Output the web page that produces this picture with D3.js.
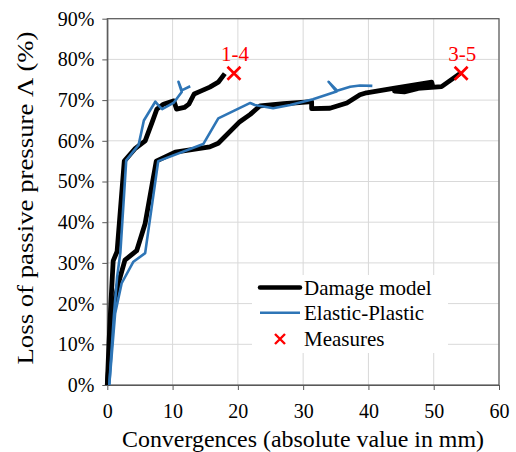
<!DOCTYPE html>
<html>
<head>
<meta charset="utf-8">
<script src="https://cdn.jsdelivr.net/npm/d3@7"></script>
<style>
  body { margin: 0; background: #fff; }
  svg text { font-family: "Liberation Serif", "Times New Roman", serif; }
</style>
</head>
<body>
<svg id="chart" width="516" height="452"></svg>
<script>
// 数据 (x: mm, y: %)
var damage14 = [[0,0],[0.25,10],[0.55,20],[0.9,30.5],[1.5,32.8],[2.6,55],[4.2,58],[5.8,60],[6.9,64.7],[7.6,67.8],[8.6,69],[10.2,69.8],[10.6,67.8],[11.8,68.2],[12.5,69],[13.3,71.5],[14.3,72.2],[15.7,73.2],[17,74.4],[18,76.5]];
var elastic14 = [[0.3,0],[1.0,16.8],[1.5,26.5],[2.0,32.5],[2.9,55.2],[4.8,59],[5.6,65],[7.35,69.6],[7.9,68.6],[8.4,67.8],[10.2,69.4],[11.4,72.0],[10.9,74.5],[11.4,72.4],[12.7,73.4]];
var damage35 = [[0,0],[0.5,10],[0.9,19],[1.7,25],[2.7,30.7],[4.5,33],[5.8,39.7],[7.5,55],[10.4,57.2],[15.7,58.5],[17,59.4],[20.3,64.7],[21.9,66.5],[23.4,68.6],[27,69.1],[31.3,69.6],[31.3,67.9],[34.1,68],[36.7,69.3],[38.7,71.3],[39.7,71.8],[43.8,72.9],[49.7,74.4],[49.8,73.7],[45.5,72.0],[44,72.2],[47,72.8],[51.2,73.3],[54,76.5]];
var elastic35 = [[0.3,0],[1.2,17.6],[2.2,25],[4,30.3],[5.8,32.4],[7.8,55],[14.7,59.2],[17,65.5],[21.9,69.3],[22.6,68.8],[25.4,68],[28,68.8],[31.5,70.2],[33.6,71.3],[35.1,72.1],[33.9,74.5],[35.2,72.3],[37.2,73.3],[38.7,73.6],[40.6,73.5]];
var measures = [[19.4,76.6,"1-4"],[54.2,76.6,"3-5"]];
var xTicks = [0,10,20,30,40,50,60];
var yTicks = [0,10,20,30,40,50,60,70,80,90];
var legendItems = ["Damage model","Elastic-Plastic","Measures"];

var _config = {
    left: 107.3, right: 499, top: 18.7, bottom: 385,
    black: "#000000", blue: "#2e75b6", red: "#ff0000", grid: "#d9d9d9", axis: "#595959"
};

var svg = d3.select("#chart");
var x = d3.scaleLinear().domain([0, 60]).range([_config.left, _config.right]);
var y = d3.scaleLinear().domain([0, 90]).range([_config.bottom, _config.top]);

// 网格
var grid = svg.append("g").attr("class", "grid");
grid.selectAll("line.h").data(yTicks.slice(1)).enter().append("line")
    .attr("x1", _config.left).attr("x2", _config.right)
    .attr("y1", function (d) { return y(d); }).attr("y2", function (d) { return y(d); })
    .attr("stroke", _config.grid).attr("stroke-width", 1);
grid.selectAll("line.v").data(xTicks.slice(1)).enter().append("line")
    .attr("y1", _config.top).attr("y2", _config.bottom)
    .attr("x1", function (d) { return x(d); }).attr("x2", function (d) { return x(d); })
    .attr("stroke", _config.grid).attr("stroke-width", 1);

// 边框
svg.append("rect")
    .attr("x", _config.left).attr("y", _config.top)
    .attr("width", _config.right - _config.left).attr("height", _config.bottom - _config.top)
    .attr("fill", "none").attr("stroke", _config.axis).attr("stroke-width", 1.2);

// 坐标轴
var gx = svg.append("g").attr("transform", "translate(0," + _config.bottom + ")")
    .call(d3.axisBottom(x).tickValues(xTicks).tickSize(5).tickPadding(14).tickSizeOuter(0));
var gy = svg.append("g").attr("transform", "translate(" + _config.left + ",0)")
    .call(d3.axisLeft(y).tickValues(yTicks).tickSize(5).tickPadding(8).tickSizeOuter(0)
        .tickFormat(function (d) { return d + "%"; }));
[gx, gy].forEach(function (g) {
    g.attr("font-family", null);
    g.select(".domain").attr("stroke", _config.axis).attr("stroke-width", 1.2);
    g.selectAll(".tick line").attr("stroke", _config.axis);
    g.selectAll(".tick text").attr("fill", "#000").style("font-size", "20px");
});

// 曲线
var line = d3.line().x(function (d) { return x(d[0]); }).y(function (d) { return y(d[1]); });
var curves = svg.append("g").attr("class", "curves");
[damage14, damage35].forEach(function (s) {
    curves.append("path").attr("d", line(s)).attr("fill", "none")
        .attr("stroke", _config.black).attr("stroke-width", 4.8).attr("stroke-linejoin", "round");
});
[elastic14, elastic35].forEach(function (s) {
    curves.append("path").attr("d", line(s)).attr("fill", "none")
        .attr("stroke", _config.blue).attr("stroke-width", 2.6).attr("stroke-linejoin", "round");
});

// 实测点
var cross = function (r) {
    return "M" + (-r) + "," + (-r) + "L" + r + "," + r + "M" + (-r) + "," + r + "L" + r + "," + (-r);
};
var meas = svg.append("g").selectAll("g").data(measures).enter().append("g")
    .attr("transform", function (d) { return "translate(" + x(d[0]) + "," + y(d[1]) + ")"; });
meas.append("path").attr("d", cross(6.5)).attr("stroke", _config.red).attr("stroke-width", 2.6).attr("fill", "none");
meas.append("text").attr("x", 1).attr("y", -12).attr("text-anchor", "middle")
    .attr("fill", _config.red).style("font-size", "21px").text(function (d) { return d[2]; });

// 图例
var lg = svg.append("g");
lg.append("rect").attr("x", 252).attr("y", 275).attr("width", 196).attr("height", 78).attr("fill", "#fff");
var rows = [287.5, 312.7, 339];
lg.append("line").attr("x1", 260).attr("x2", 300).attr("y1", rows[0]).attr("y2", rows[0])
    .attr("stroke", _config.black).attr("stroke-width", 4.5).attr("stroke-linecap", "round");
lg.append("line").attr("x1", 260).attr("x2", 300).attr("y1", rows[1]).attr("y2", rows[1])
    .attr("stroke", _config.blue).attr("stroke-width", 2.6);
lg.append("path").attr("d", cross(5)).attr("transform", "translate(280," + rows[2] + ")")
    .attr("stroke", _config.red).attr("stroke-width", 2.4).attr("fill", "none");
lg.selectAll("text").data(legendItems).enter().append("text")
    .attr("x", 304).attr("y", function (d, i) { return rows[i] + 7; })
    .style("font-size", "21px").attr("fill", "#000").text(function (d) { return d; });

// 轴标题
svg.append("text").attr("x", 303).attr("y", 447).attr("text-anchor", "middle")
    .attr("textLength", 362).attr("lengthAdjust", "spacingAndGlyphs")
    .style("font-size", "23px").text("Convergences (absolute value in mm)");
svg.append("text").attr("transform", "translate(33,198) rotate(-90)").attr("text-anchor", "middle")
    .attr("textLength", 333).attr("lengthAdjust", "spacingAndGlyphs")
    .style("font-size", "23px").text("Loss of passive pressure  Λ (%)");
</script>
</body>
</html>
